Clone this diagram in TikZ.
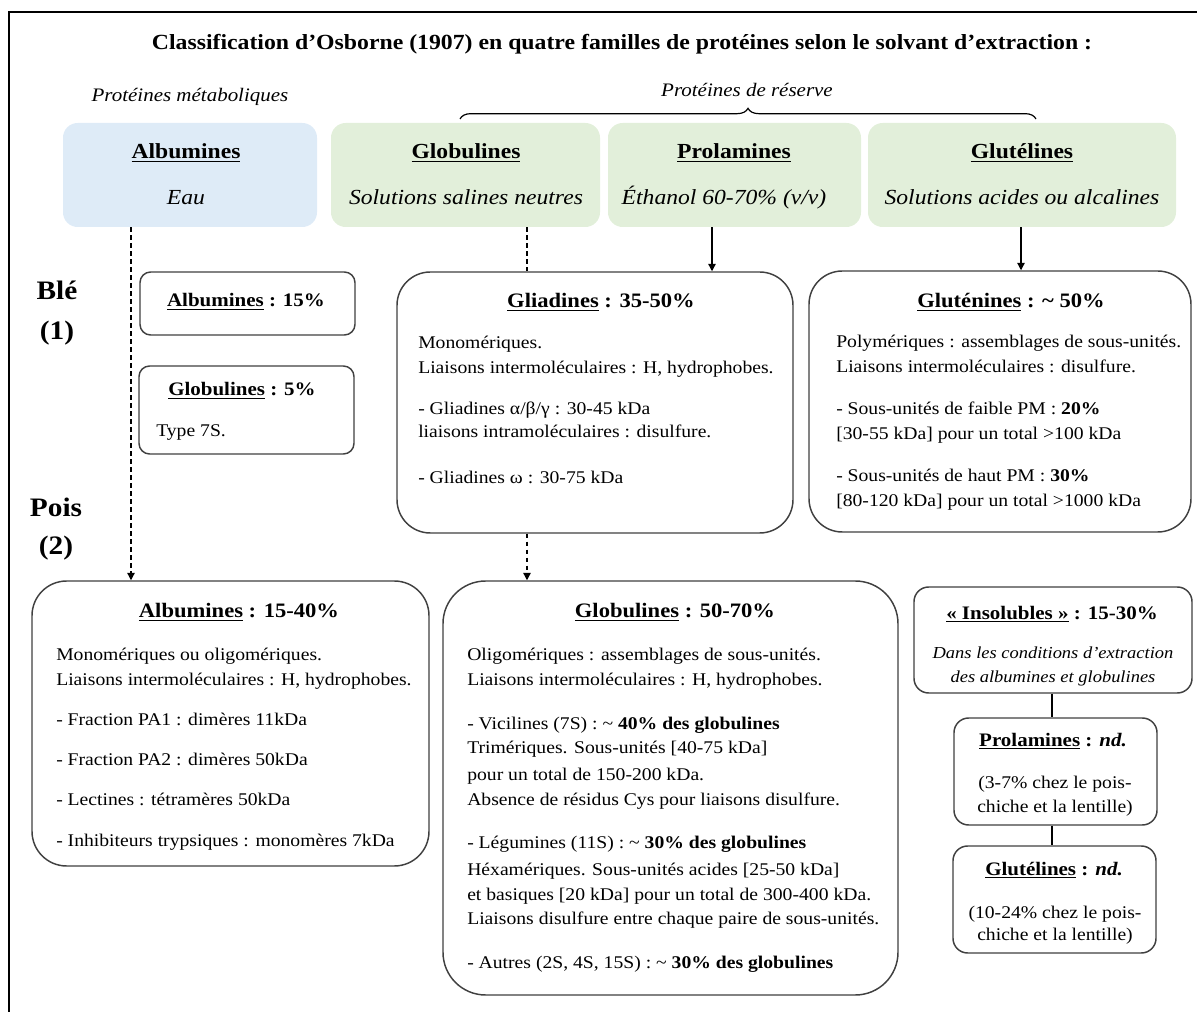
\documentclass[tikz,border=0pt]{standalone}
\usepackage{fontspec}
\setmainfont{Liberation Serif}[FakeStretch=1.1]
\usetikzlibrary{fit,arrows.meta,decorations.pathreplacing}
\definecolor{hblue}{RGB}{222,235,247}
\definecolor{hgreen}{RGB}{226,239,218}
\definecolor{bord}{RGB}{64,64,64}
\newcommand\fsbody{\fontsize{13.4}{16}\selectfont}
\newcommand\fsbt{\fontsize{14.3}{17}\selectfont\bfseries}
\newcommand\fsbtl{\fontsize{15.4}{18}\selectfont\bfseries}
\newcommand\fshdr{\fontsize{16.1}{19}\selectfont}
\newcommand\fslab{\fontsize{14.3}{17}\selectfont\itshape}
\newcommand\fsbig{\fontsize{20}{24}\selectfont\bfseries}
\newcommand\fssmall{\fontsize{12.6}{15}\selectfont\itshape}
\newcommand\fstop{\fontsize{16.2}{19}\selectfont\bfseries}
\begin{document}
\begin{tikzpicture}[x=0.75pt,y=-0.75pt,
  hdrbox/.style={inner sep=0pt, rounded corners=11pt},
  bx/.style={draw=bord, line width=1.1pt, inner sep=0pt, fill=white},
  tl/.style={inner sep=0pt, anchor=base west, font=\fsbody},
  tc/.style={inner sep=0pt, anchor=base, font=\fsbody},
  btitle/.style={inner sep=0pt, anchor=base, font=\fsbt},
  btitleL/.style={inner sep=0pt, anchor=base, font=\fsbtl},
  hdtitle/.style={inner sep=0pt, anchor=base, font=\fshdr\bfseries},
  hdsub/.style={inner sep=0pt, anchor=base, font=\fshdr\itshape},
  lab/.style={inner sep=0pt, anchor=base, font=\fslab},
  big/.style={inner sep=0pt, anchor=base, font=\fsbig},
  smallit/.style={inner sep=0pt, anchor=base, font=\fssmall},
  conn/.style={draw=black, line width=0.9pt},
  dsh/.style={conn, dash pattern=on 3.5pt off 2.5pt},
  tip/.style={-{Triangle[length=5.5pt,width=5.5pt]}}
]
\useasboundingbox (0,0) rectangle (1197,1012);
% outer frame
\draw[line width=1.9pt] (9,1014) -- (9,12) -- (1199,12);

% title and group labels
\node[inner sep=0pt, anchor=base, font=\fstop] (title) at (622,50)
  {Classification d’Osborne (1907) en quatre familles de protéines selon le solvant d’extraction :};
\node[lab] (metab) at (190,102) {Protéines métaboliques};
\node[lab] (reserve) at (747,97) {Protéines de réserve};
\coordinate (brL) at (460,119);
\coordinate (brR) at (1036,119);
\draw[line width=0.9pt, decorate, decoration={brace, amplitude=8pt, aspect=0.5}] (brL) -- (brR);

% header boxes
\node[hdrbox, fill=hblue, fit={(63,123) (317,227)}] (halb) {};
\node[hdrbox, fill=hgreen, fit={(331,123) (600,227)}] (hglo) {};
\node[hdrbox, fill=hgreen, fit={(608,123) (861,227)}] (hpro) {};
\node[hdrbox, fill=hgreen, fit={(868,123) (1176,227)}] (hglu) {};
\node[hdtitle] (halbT) at (186,159) {\underline{Albumines}};
\node[hdsub] (halbS) at (186,205) {Eau};
\node[hdtitle] (hgloT) at (466,159) {\underline{Globulines}};
\node[hdsub] (hgloS) at (466,205) {Solutions salines neutres};
\node[hdtitle] (hproT) at (734,159) {\underline{Prolamines}};
\node[hdsub] (hproS) at (724,205) {Éthanol 60-70\% (v/v)};
\node[hdtitle] (hgluT) at (1022,159) {\underline{Glutélines}};
\node[hdsub] (hgluS) at (1022,205) {Solutions acides ou alcalines};

% row labels
\node[big] (ble) at (57,300) {Blé};
\node[big] (ble1) at (57,340) {(1)};
\node[big] (pois) at (56,517) {Pois};
\node[big] (pois2) at (56,555) {(2)};

% Blé boxes
\node[bx, rounded corners=8pt, fit={(140,272) (355,335)}] (balb) {};
\node[btitle] (balbT) at (246,307) {\underline{Albumines} : 15\%};
\node[bx, rounded corners=8pt, fit={(139,366) (354,454)}] (bglo) {};
\node[btitle] (bgloT) at (242,396) {\underline{Globulines} : 5\%};
\node[tl] (bglo1) at (156,437) {Type 7S.};

\node[bx, rounded corners=25pt, fit={(397,272) (793,533)}] (glia) {};
\node[btitleL] (gliaT) at (601,308) {\underline{Gliadines} : 35-50\%};
\node[tl] (glia1) at (418,349) {Monomériques.};
\node[tl] (glia2) at (418,374) {Liaisons intermoléculaires : H, hydrophobes.};
\node[tl] (glia3) at (418,415) {- Gliadines α/β/γ : 30-45 kDa};
\node[tl] (glia4) at (418,438) {liaisons intramoléculaires : disulfure.};
\node[tl] (glia5) at (418,484) {- Gliadines ω : 30-75 kDa};

\node[bx, rounded corners=25pt, fit={(809,271) (1191,532)}] (glut) {};
\node[btitleL] (glutT) at (1011,308) {\underline{Gluténines} : \textasciitilde{} 50\%};
\node[tl] (glut1) at (836,348) {Polymériques : assemblages de sous-unités.};
\node[tl] (glut2) at (836,373) {Liaisons intermoléculaires : disulfure.};
\node[tl] (glut3) at (836,415) {- Sous-unités de faible PM : \textbf{20\%}};
\node[tl] (glut4) at (836,440) {[30-55 kDa] pour un total >100 kDa};
\node[tl] (glut5) at (836,482) {- Sous-unités de haut PM : \textbf{30\%}};
\node[tl] (glut6) at (836,507) {[80-120 kDa] pour un total >1000 kDa};

% Pois boxes
\node[bx, rounded corners=26pt, fit={(32,581) (429,866)}] (palb) {};
\node[btitleL] (palbT) at (239,618) {\underline{Albumines} : 15-40\%};
\node[tl] (palb1) at (56,660) {Monomériques ou oligomériques.};
\node[tl] (palb2) at (56,685) {Liaisons intermoléculaires : H, hydrophobes.};
\node[tl] (palb3) at (56,725) {- Fraction PA1 : dimères 11kDa};
\node[tl] (palb4) at (56,765) {- Fraction PA2 : dimères 50kDa};
\node[tl] (palb5) at (56,805) {- Lectines : tétramères 50kDa};
\node[tl] (palb6) at (56,846) {- Inhibiteurs trypsiques : monomères 7kDa};

\node[bx, rounded corners=32pt, fit={(443,581) (898,995)}] (pglo) {};
\node[btitleL] (pgloT) at (675,618) {\underline{Globulines} : 50-70\%};
\node[tl] (pglo1) at (467,660) {Oligomériques : assemblages de sous-unités.};
\node[tl] (pglo2) at (467,685) {Liaisons intermoléculaires : H, hydrophobes.};
\node[tl] (pglo3) at (467,729) {- Vicilines (7S) : \textasciitilde{} \textbf{40\% des globulines}};
\node[tl] (pglo4) at (467,753) {Trimériques. Sous-unités [40-75 kDa]};
\node[tl] (pglo5) at (467,780) {pour un total de 150-200 kDa.};
\node[tl] (pglo6) at (467,805) {Absence de résidus Cys pour liaisons disulfure.};
\node[tl] (pglo7) at (467,848) {- Légumines (11S) : \textasciitilde{} \textbf{30\% des globulines}};
\node[tl] (pglo8) at (467,875) {Héxamériques. Sous-unités acides [25-50 kDa]};
\node[tl] (pglo9) at (467,900) {et basiques [20 kDa] pour un total de 300-400 kDa.};
\node[tl] (pglo10) at (467,924) {Liaisons disulfure entre chaque paire de sous-unités.};
\node[tl] (pglo11) at (467,968) {- Autres (2S, 4S, 15S) : \textasciitilde{} \textbf{30\% des globulines}};

\node[bx, rounded corners=11pt, fit={(914,587) (1192,693)}] (insol) {};
\node[btitle] (insolT) at (1052,619) {\underline{« Insolubles »} : 15-30\%};
\node[smallit] (insol1) at (1053,658) {Dans les conditions d’extraction};
\node[smallit] (insol2) at (1053,682) {des albumines et globulines};

\node[bx, rounded corners=11pt, fit={(954,718) (1157,825)}] (ppro) {};
\node[btitle] (pproT) at (1053,746) {\underline{Prolamines} : \textit{nd.}};
\node[tc] (ppro1) at (1055,788) {(3-7\% chez le pois-};
\node[tc] (ppro2) at (1055,812) {chiche et la lentille)};

\node[bx, rounded corners=11pt, fit={(953,846) (1156,953)}] (pglu) {};
\node[btitle] (pgluT) at (1054,875) {\underline{Glutélines} : \textit{nd.}};
\node[tc] (pglu1) at (1055,918) {(10-24\% chez le pois-};
\node[tc] (pglu2) at (1055,940) {chiche et la lentille)};

% connectors
\coordinate (xa) at (131,0);
\coordinate (xg) at (527,0);
\coordinate (xp) at (712,0);
\coordinate (xt) at (1021,0);
\coordinate (xi) at (1052,0);
\draw[dsh, tip] (halb.south -| xa) -- (palb.north -| xa);
\draw[dsh] (hglo.south -| xg) -- (glia.north -| xg);
\draw[dsh, tip] (glia.south -| xg) -- (pglo.north -| xg);
\draw[conn, tip] (hpro.south -| xp) -- (glia.north -| xp);
\draw[conn, tip] (hglu.south -| xt) -- (glut.north -| xt);
\draw[conn] (insol.south -| xi) -- (ppro.north -| xi);
\draw[conn] (ppro.south -| xi) -- (pglu.north -| xi);
\end{tikzpicture}
\end{document}
